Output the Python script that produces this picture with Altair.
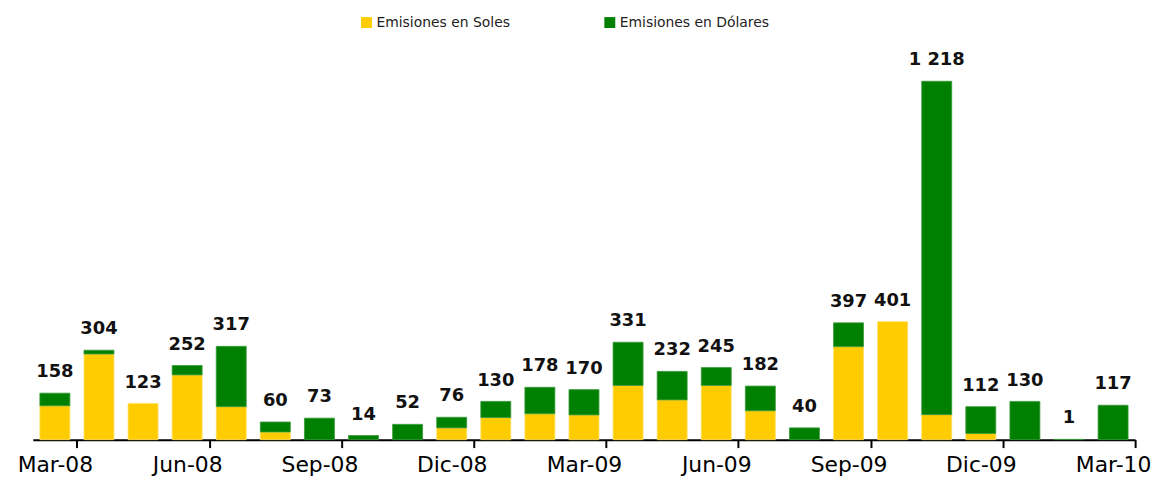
import altair as alt
import pandas as pd

meses = ["Mar-08", "Abr-08", "May-08", "Jun-08", "Jul-08", "Ago-08", "Sep-08", "Oct-08",
         "Nov-08", "Dic-08", "Ene-09", "Feb-09", "Mar-09", "Abr-09", "May-09", "Jun-09",
         "Jul-09", "Ago-09", "Sep-09", "Oct-09", "Nov-09", "Dic-09", "Ene-10", "Feb-10", "Mar-10"]
soles = [115, 291, 123, 220, 112, 26, 0, 0, 0, 40, 75, 88, 84, 184, 135, 184, 98, 0,
         316, 401, 85, 21, 0, 0, 0]
dolares = [43, 13, 0, 32, 205, 34, 73, 14, 52, 36, 55, 90, 86, 147, 97, 61, 84, 40,
           81, 0, 1133, 91, 130, 1, 117]
totales = [158, 304, 123, 252, 317, 60, 73, 14, 52, 76, 130, 178, 170, 331, 232, 245, 182, 40,
           397, 401, 1218, 112, 130, 1, 117]
etiquetas_eje = ["Mar-08", "Jun-08", "Sep-08", "Dic-08", "Mar-09", "Jun-09", "Sep-09", "Dic-09", "Mar-10"]
series = ["Emisiones en Soles", "Emisiones en Dólares"]
colores = ["#FFCC00", "#008000"]
bordes = ["#FFE066", "#3A9A3A"]

rows = []
for m, s, d in zip(meses, soles, dolares):
    rows.append({"mes": m, "serie": series[0], "valor": s, "orden": 0})
    rows.append({"mes": m, "serie": series[1], "valor": d, "orden": 1})
df = pd.DataFrame(rows)
df_tot = pd.DataFrame({"mes": meses, "total": totales,
                       "etiqueta": [f"{t:,}".replace(",", " ") for t in totales]})

lista = "[" + ",".join(f"'{e}'" for e in etiquetas_eje) + "]"
test = f"indexof({lista}, datum.value) >= 0"

x_enc = alt.X("mes:N", sort=meses, title=None,
              scale=alt.Scale(paddingInner=0, paddingOuter=0),
              axis=alt.Axis(labelExpr=f"indexof({lista}, datum.value) >= 0 ? datum.value : ''",
                            labelAngle=0, labelFont="DejaVu Sans", labelFontSize=22,
                            labelColor="#000000", labelPadding=7, labelOverlap=False,
                            domainColor="#000000", domainWidth=2,
                            tickColor="#000000", tickWidth=2, tickSize=8, tickBand="extent",
                            tickOpacity={"condition": {"test": test, "value": 1}, "value": 0},
                            grid=False))

bars = alt.Chart(df).transform_filter("datum.valor > 0").mark_bar(
    width=alt.RelativeBandSize(0.68), strokeWidth=0.8
).encode(
    x=x_enc,
    y=alt.Y("valor:Q", stack="zero", axis=None,
            scale=alt.Scale(domain=[0, 1350], nice=False, zero=True)),
    color=alt.Color("serie:N", scale=alt.Scale(domain=series, range=colores),
                    legend=alt.Legend(title=None, orient="none", legendX=329, legendY=-27,
                                      direction="horizontal", symbolType="square",
                                      symbolSize=121, symbolStrokeWidth=0,
                                      labelFont="DejaVu Sans", labelFontSize=14,
                                      labelColor="#222222", labelOffset=3,
                                      columnPadding=93)),
    stroke=alt.Stroke("serie:N", scale=alt.Scale(domain=series, range=bordes), legend=None),
    order=alt.Order("orden:Q", sort="ascending"),
)

text = alt.Chart(df_tot).mark_text(
    font="DejaVu Sans", fontSize=18, fontWeight="bold", color="#111111",
    baseline="alphabetic", dy=-16
).encode(
    x=alt.X("mes:N", sort=meses),
    y=alt.Y("total:Q"),
    text="etiqueta:N",
)

chart = alt.layer(bars, text).properties(
    width=1110, height=400,
    autosize=alt.AutoSizeParams(type="none"),
    padding={"left": 25, "top": 33, "right": 19, "bottom": 41},
).configure_view(stroke=None)

chart.save("out.html", embed_options={"renderer": "svg", "actions": False})
